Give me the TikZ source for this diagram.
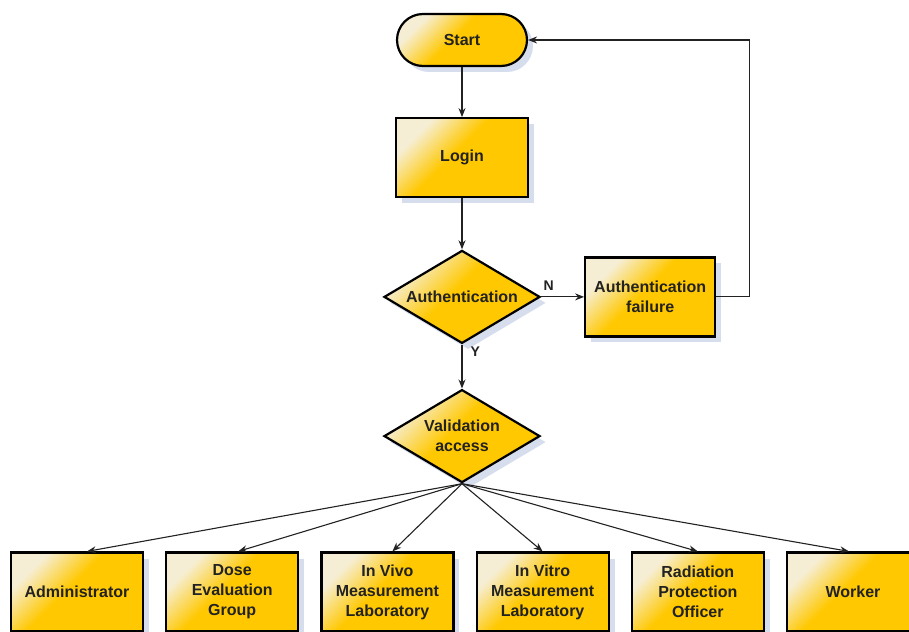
\documentclass[tikz,border=0pt]{standalone}
\usepackage{fontspec}
\setmainfont{Liberation Sans}
\usetikzlibrary{arrows.meta,shapes.geometric,shadows,positioning}
\definecolor{gold}{RGB}{255,200,0}
\definecolor{cream}{RGB}{246,238,212}
\definecolor{shadowblue}{RGB}{214,222,238}
\definecolor{ink}{RGB}{34,34,34}
\pgfdeclarehorizontalshading{boxshade}{100bp}{color(0bp)=(cream); color(27bp)=(cream); color(46bp)=(gold); color(100bp)=(gold)}

\begin{document}
\begin{tikzpicture}[x=1pt,y=-1pt,->,>={Stealth[length=9pt,width=7pt]},
    line width=1.1pt,draw=ink,
    box/.style={rectangle,draw=black,line width=2.2pt,shade,shading=boxshade,
      shading angle=-45,
      drop shadow={shadow xshift=6pt,shadow yshift=-6pt,fill=shadowblue,opacity=1},
      minimum width=132pt,minimum height=79pt,inner sep=2pt,align=center,
      text=ink,font=\bfseries\fontsize{16}{20}\selectfont},
    terminal/.style={box,rounded corners=26pt,minimum width=130pt,minimum height=52pt},
    decision/.style={box,diamond,aspect=1.7,inner sep=0pt,
      minimum width=156pt,minimum height=93pt},
    tag/.style={text=ink,font=\bfseries\fontsize{14}{16}\selectfont,inner sep=2pt}]

  \useasboundingbox (0,0) rectangle (909,631);

  \node[terminal] (start) at (462,40) {Start};
  \node[box] (login) [below=50pt of start] {Login};
  \node[decision] (auth) [below=51pt of login] {Authentication};
  \node[box,minimum width=130pt] (fail) [right=43pt of auth] {Authentication\\failure};
  \node[decision] (valid) [below=44pt of auth] {Validation\\access};

  \node[box] (admin) at (77,592) {Administrator};
  \node[box] (dose) [right=21pt of admin] {Dose\\Evaluation\\Group};
  \node[box] (vivo) [right=21pt of dose] {In Vivo\\Measurement\\Laboratory};
  \node[box] (vitro) [right=21pt of vivo] {In Vitro\\Measurement\\Laboratory};
  \node[box] (rpo) [right=21pt of vitro] {Radiation\\Protection\\Officer};
  \node[box] (worker) [right=21pt of rpo] {Worker};

  \path (start) edge (login)
  (login) edge (auth);
  \path (auth) edge node[tag,pos=0,anchor=south west,yshift=4pt] {N} (fail)
  (auth) edge node[tag,pos=0,anchor=north west,xshift=6pt] {Y} (valid);
  \draw (fail.east) -- ++(33,0) |- (start.east);

  \path (valid.south) edge ([xshift=10pt]admin.north) edge ([xshift=6pt]dose.north)
  edge ([xshift=5pt]vivo.north) edge (vitro.north) edge (rpo.north)
  edge ([xshift=-4pt]worker.north);

\end{tikzpicture}
\end{document}
